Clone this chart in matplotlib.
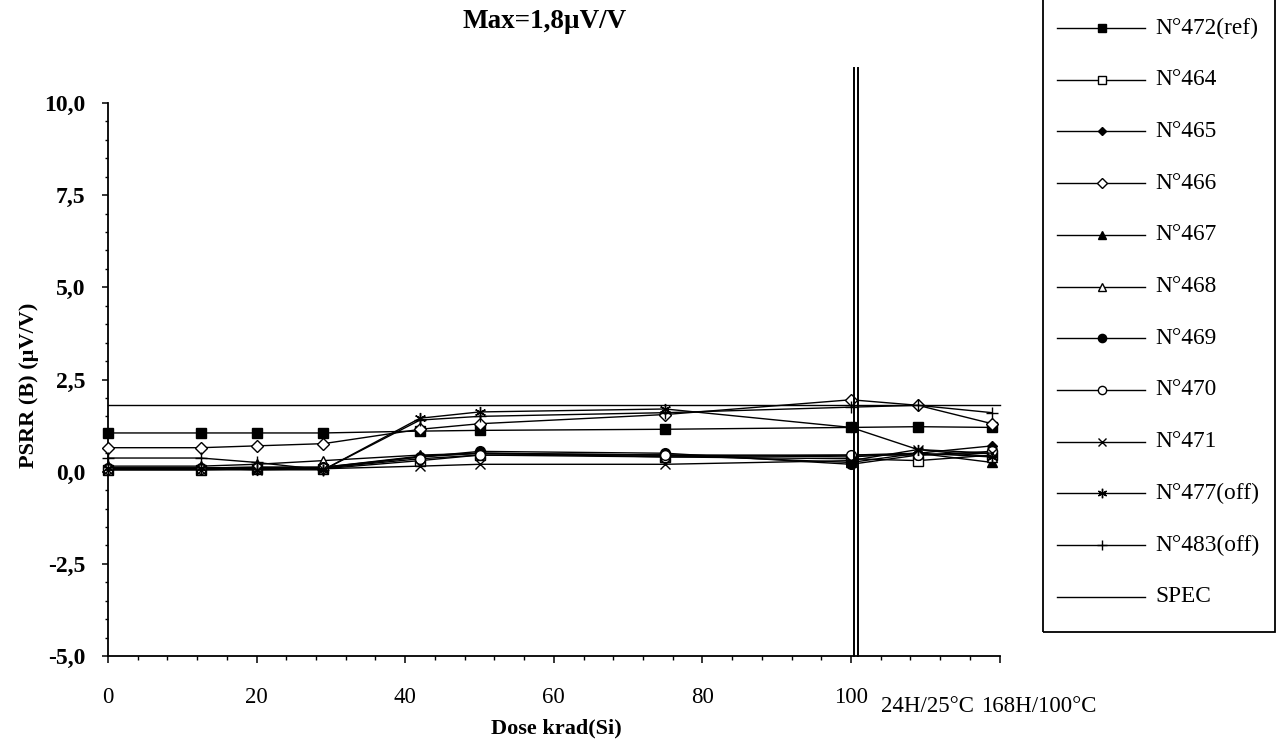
import matplotlib
matplotlib.use("Agg")
import matplotlib.pyplot as plt
from matplotlib.lines import Line2D
from matplotlib.patches import Rectangle
from matplotlib.ticker import MultipleLocator

plt.rcParams['font.family'] = ['Liberation Serif', 'DejaVu Serif']

# ---- data -------------------------------------------------------------
dose = [0, 12.5, 20, 29, 42, 50, 75, 100, 109, 119]
tick_positions = [0, 20, 40, 60, 80, 100, 120]
tick_labels = ['0', '20', '40', '60', '80', '100', '']
extra_labels = ['24H/25°C', '168H/100°C']
extra_label_pos = [110.3, 125.2]
ytick_positions = [-5.0, -2.5, 0.0, 2.5, 5.0, 7.5, 10.0]
ytick_labels = ['-5,0', '-2,5', '0,0', '2,5', '5,0', '7,5', '10,0']

n472 = [1.05, 1.05, 1.05, 1.05, 1.10, 1.12, 1.15, 1.20, 1.22, 1.20]
n464 = [0.05, 0.05, 0.08, 0.08, 0.30, 0.45, 0.40, 0.35, 0.30, 0.45]
n465 = [0.08, 0.08, 0.10, 0.10, 0.40, 0.50, 0.45, 0.40, 0.50, 0.70]
n466 = [0.65, 0.65, 0.70, 0.76, 1.15, 1.30, 1.55, 1.95, 1.80, 1.30]
n467 = [0.10, 0.10, 0.12, 0.12, 0.42, 0.50, 0.45, 0.25, 0.50, 0.25]
n468 = [0.15, 0.15, 0.20, 0.30, 0.45, 0.50, 0.40, 0.45, 0.50, 0.40]
n469 = [0.10, 0.10, 0.12, 0.12, 0.40, 0.55, 0.50, 0.20, 0.45, 0.50]
n470 = [0.08, 0.08, 0.10, 0.10, 0.35, 0.45, 0.45, 0.45, 0.45, 0.55]
n471 = [0.05, 0.05, 0.05, 0.08, 0.15, 0.20, 0.20, 0.30, 0.60, 0.50]
n477 = [0.10, 0.10, 0.05, 0.05, 1.45, 1.62, 1.70, 1.20, 0.60, 0.40]
n483 = [0.37, 0.37, 0.25, 0.05, 1.40, 1.50, 1.60, 1.75, 1.80, 1.60]
spec_x = [0, 120]
spec_y = [1.8, 1.8]
names = ['N°472(ref)', 'N°464', 'N°465', 'N°466', 'N°467', 'N°468',
         'N°469', 'N°470', 'N°471', 'N°477(off)', 'N°483(off)', 'SPEC']
series = [n472, n464, n465, n466, n467, n468, n469, n470, n471, n477, n483]

# ---- styles -----------------------------------------------------------
styles = [
    dict(marker='s', mfc='black', ms=7),
    dict(marker='s', mfc='white', ms=7),
    dict(marker='D', mfc='black', ms=5),
    dict(marker='D', mfc='white', ms=6),
    dict(marker='^', mfc='black', ms=7),
    dict(marker='^', mfc='white', ms=7),
    dict(marker='o', mfc='black', ms=7),
    dict(marker='o', mfc='white', ms=7),
    dict(marker='x', mfc='black', ms=7),
    dict(marker=(6, 2, 0), mfc='black', ms=8),
    dict(marker='+', mfc='black', ms=9),
]

W, H = 1278, 743
fig = plt.figure(figsize=(W / 100, H / 100), dpi=100)

def fx(px):
    return px / W

def fy(py):
    return 1 - py / H

ax_l, ax_r, ax_t, ax_b = 108, 999.6, 103, 656
ax = fig.add_axes([fx(ax_l), fy(ax_b), (ax_r - ax_l) / W, (ax_b - ax_t) / H])

for vals, st in zip(series, styles):
    ax.plot(dose, vals, color='black', lw=1.0, mec='black', mew=1.0,
            clip_on=False, zorder=3, **st)
ax.plot(spec_x, spec_y, color='black', lw=1.0, clip_on=False, zorder=3)

# double vertical separator line
for xv in (100.4, 101.0):
    ax.plot([xv, xv], [-5, 10.95], color='black', lw=1.4, clip_on=False, zorder=4)

ax.set_xlim(0, 120)
ax.set_ylim(-5, 10)
for s in ('top', 'right'):
    ax.spines[s].set_visible(False)
for s in ('left', 'bottom'):
    ax.spines[s].set_linewidth(1.3)

ax.set_xticks(tick_positions)
ax.set_xticklabels(tick_labels, fontsize=16.5)
ax.xaxis.set_minor_locator(MultipleLocator(4))
ax.set_yticks(ytick_positions)
ax.set_yticklabels(ytick_labels, fontsize=17, fontweight='bold')
ax.yaxis.set_minor_locator(MultipleLocator(0.5))
ax.tick_params(axis='x', which='major', length=5, width=1.1, pad=17, direction='out')
ax.tick_params(axis='x', which='minor', length=3, width=1.0, direction='out')
ax.tick_params(axis='y', which='major', length=4.5, width=1.1, pad=12, direction='out')
ax.tick_params(axis='y', which='minor', length=2.2, width=1.0, direction='out')

trans, va, ha = ax.get_xaxis_text1_transform(17 * 100 / 72 + 5)
for lab, pos in zip(extra_labels, extra_label_pos):
    ax.text(pos, 0, lab, transform=trans, va=va, ha='center', fontsize=16.5)

fig.text(fx(556), fy(728), 'Dose krad(Si)', ha='center', va='center',
         fontsize=16, fontweight='bold')
fig.text(fx(29), fy(385), 'PSRR (B) (µV/V)', ha='center', va='center',
         rotation=90, fontsize=16, fontweight='bold')
fig.text(fx(545), fy(22), 'Max=1,8µV/V', ha='center', va='center',
         fontsize=19.5, fontweight='bold')

# ---- legend (drawn in figure pixels) ----------------------------------
fig.add_artist(Rectangle((fx(1043), fy(632)), (1275 - 1043) / W, (632 + 2) / H,
                         transform=fig.transFigure, fill=False, lw=1.3,
                         edgecolor='black'))
row0, step = 28, 51.7
all_styles = styles + [dict(marker='None')]
for i, (name, st) in enumerate(zip(names, all_styles)):
    yy = fy(row0 + i * step)
    fig.add_artist(Line2D([fx(1057), fx(1145)], [yy, yy], transform=fig.transFigure,
                          color='black', lw=1.0))
    if st['marker'] != 'None':
        ms = st['ms'] * 0.85
        fig.add_artist(Line2D([fx(1102)], [yy], transform=fig.transFigure,
                              marker=st['marker'], ms=ms, mfc=st['mfc'],
                              mec='black', mew=1.0, ls='None'))
    fig.text(fx(1155), yy, name, ha='left', va='center', fontsize=16.8)

fig.savefig('out.png', dpi=100)
